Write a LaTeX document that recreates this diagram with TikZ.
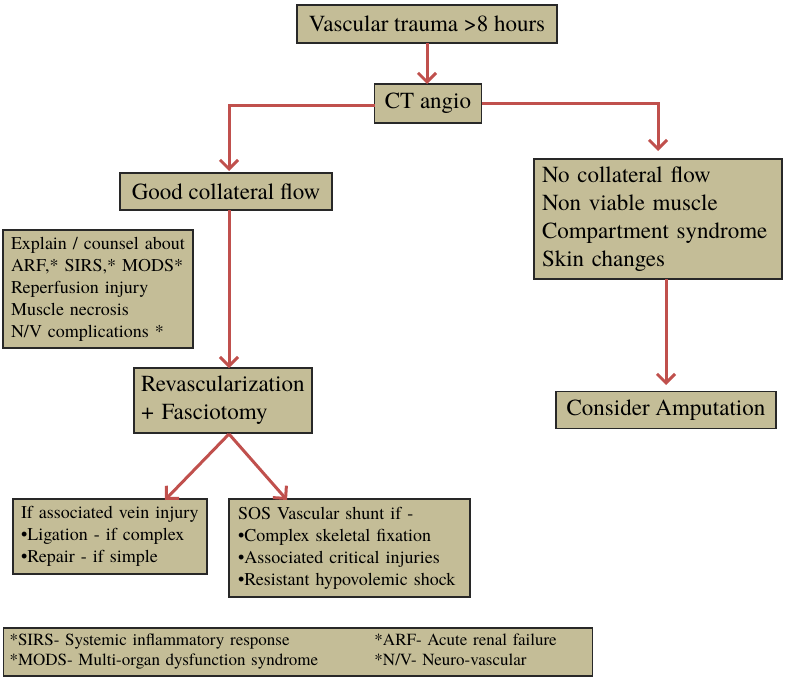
\documentclass[tikz,border=0pt]{standalone}
\usepackage{fontspec}
\IfFontExistsTF{texgyretermes-regular.otf}
  {\setmainfont{texgyretermes-regular.otf}[BoldFont=texgyretermes-bold.otf]}
  {\setmainfont{Liberation Serif}}
\usetikzlibrary{arrows.meta}
\definecolor{tanfill}{RGB}{196,189,151}
\definecolor{arrred}{RGB}{192,80,77}
\definecolor{edge}{RGB}{40,40,40}
\tikzset{
  box/.style={draw=edge, line width=1.1pt, fill=tanfill, inner sep=0pt, outer sep=0pt},
  big/.style={font=\fontsize{23}{28}\selectfont},
  small/.style={font=\fontsize{18}{22}\selectfont},
  tiny/.style={font=\fontsize{17}{20}\selectfont},
  arr/.style={draw=arrred, line width=3pt, -{Straight Barb[length=9pt,width=18pt]}},
  lin/.style={draw=arrred, line width=3pt}
}
\begin{document}
\begin{tikzpicture}[x=1pt,y=-1pt]
\useasboundingbox (0,0) rectangle (790,685);
% single-line boxes
\node[box,big,minimum width=260pt,minimum height=38pt] (vt) at (427,24) {Vascular trauma >8 hours};
\node[box,big,minimum width=107pt,minimum height=39pt] (ct) at (428,103.5) {CT angio};
\node[box,big,minimum width=212pt,minimum height=37pt] (good) at (226,191.5) {Good collateral flow};
\node[box,big,minimum width=220pt,minimum height=37pt] (amp) at (666,410) {Consider Amputation};
% multi-line boxes
\node[box,small,align=left,text width=174pt,minimum height=118pt,inner xsep=8pt] (expl) at (98,289)
  {Explain / counsel about\\ARF,* SIRS,* MODS*\\Reperfusion injury\\Muscle necrosis\\N/V complications *};
\node[box,big,align=left,text width=232pt,minimum height=120pt,inner xsep=8pt] (noc) at (658,219)
  {No collateral flow\\Non viable muscle\\Compartment syndrome\\Skin changes};
\node[box,big,align=left,text width=164pt,minimum height=65pt,inner xsep=7pt] (rev) at (223,400.5)
  {Revascularization\\+ Fasciotomy};
\node[box,small,align=left,text width=178pt,minimum height=75pt,inner xsep=8pt] (vein) at (110,536.5)
  {If associated vein injury\\\textbullet Ligation - if complex\\\textbullet Repair - if simple};
\node[box,small,align=left,text width=223pt,minimum height=98pt,inner xsep=9pt] (sos) at (349.5,548)
  {SOS Vascular shunt if -\\\textbullet Complex skeletal fixation\\\textbullet Associated critical injuries\\\textbullet Resistant hypovolemic shock};
\node[box,tiny,align=left,text width=577pt,minimum height=48pt,inner xsep=6pt] (foot) at (298,652)
  {\makebox[365pt][l]{*SIRS- Systemic inflammatory response}*ARF- Acute renal failure\\
   \makebox[365pt][l]{*MODS- Multi-organ dysfunction syndrome}*N/V- Neuro-vascular};
% connector end points
\coordinate (gtop) at (229,171);
\coordinate (ntop) at (658,151);
\coordinate (rtop) at (229,368);
\coordinate (atop) at (666,385);
\coordinate (rbot) at (229,434);
\coordinate (vtop) at (165,500);
\coordinate (stop) at (287,500);
% connectors
\draw[arr] (vt.south) -- (vt.south |- ct.north);
\draw[arr] ([yshift=-2pt]ct.west) -| (gtop);
\draw[arr] ([yshift=0pt]ct.east) -| (ntop);
\draw[arr] (good.south -| rtop) -- (rtop);
\draw[arr] (noc.south -| atop) -- (atop);
\draw[arr] (rbot) -- (vtop);
\draw[arr] (rbot) -- (stop);
\end{tikzpicture}
\end{document}
